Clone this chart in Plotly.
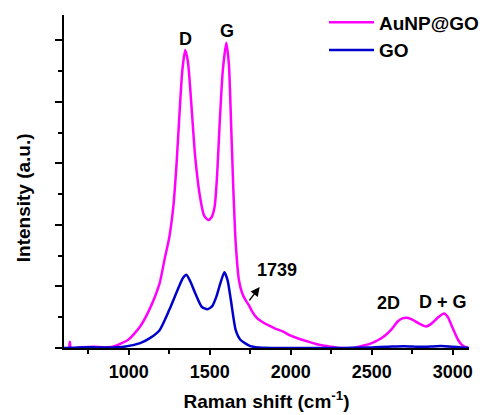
import plotly.graph_objects as go

# Raman shift (cm^-1) and intensity (a.u.)
aunp_x = [600, 630, 636, 642, 700, 780, 850, 900, 950, 1000, 1070, 1130, 1190, 1220,
          1250, 1275, 1295, 1315, 1330, 1348, 1365, 1385, 1410, 1440, 1465, 1490,
          1510, 1530, 1545, 1560, 1580, 1602, 1618, 1632, 1645, 1660, 1680, 1700, 1720,
          1740, 1760, 1790, 1820, 1860, 1900, 1950, 2000, 2050, 2100, 2150, 2200, 2250,
          2300, 2380, 2450, 2500, 2540, 2580, 2620, 2660, 2690, 2717, 2750, 2790, 2835,
          2870, 2910, 2946, 2970, 3000, 3033, 3060, 3095]
aunp_y = [0.0, 0.0, 0.1, 0.0, 0.01, 0.02, 0.01, 0.02, 0.07, 0.14, 0.35, 0.64, 1.05, 1.43,
          1.8, 2.3, 3.0, 3.9, 4.5, 4.84, 4.65, 4.0, 3.1, 2.45, 2.15, 2.08,
          2.12, 2.3, 2.8, 3.6, 4.5, 4.96, 4.6, 3.6, 2.6, 1.7, 1.1, 0.89, 0.78,
          0.7, 0.6, 0.49, 0.43, 0.37, 0.32, 0.27, 0.2, 0.15, 0.11, 0.07, 0.04, 0.02,
          0.0, 0.0, 0.04, 0.08, 0.13, 0.2, 0.3, 0.43, 0.48, 0.49, 0.46, 0.4, 0.35,
          0.4, 0.5, 0.56, 0.5, 0.32, 0.13, 0.04, 0.0]

go_x = [600, 700, 800, 900, 970, 1070, 1130, 1190, 1250, 1310, 1335, 1355, 1380, 1410,
        1450, 1485, 1515, 1540, 1565, 1590, 1610, 1630, 1660, 1690, 1750, 1800, 2000,
        2300, 2500, 2600, 2700, 2800, 2900, 2950, 3050, 3100]
go_y = [0.0, 0.01, 0.01, 0.01, 0.02, 0.08, 0.16, 0.29, 0.62, 1.0, 1.14, 1.19, 1.08, 0.89,
        0.67, 0.63, 0.68, 0.83, 1.05, 1.23, 1.1, 0.78, 0.29, 0.13, 0.03, 0.01, 0.0,
        0.0, 0.01, 0.02, 0.03, 0.02, 0.03, 0.03, 0.01, 0.0]

peak_labels = ["D", "G", "1739", "2D", "D + G"]
peak_label_x = [1350, 1606, 1915, 2600, 2939]
peak_label_y = [5.02, 5.15, 1.27, 0.73, 0.75]

FONT = "Liberation Sans, Arial, sans-serif"
MAGENTA = "#FF00FF"
BLUE = "#0000CC"

fig = go.Figure()
fig.add_trace(go.Scatter(x=aunp_x, y=aunp_y, mode="lines", name="AuNP@GO",
                         line=dict(color=MAGENTA, width=2.5, shape="spline", smoothing=0.6)))
fig.add_trace(go.Scatter(x=go_x, y=go_y, mode="lines", name="GO",
                         line=dict(color=BLUE, width=2.5, shape="spline", smoothing=0.6)))

for t, x, y in zip(peak_labels, peak_label_x, peak_label_y):
    fig.add_annotation(x=x, y=y, text=t, showarrow=False,
                       font=dict(family=FONT, size=18, color="black", weight="bold"))

# arrow pointing at the 1739 shoulder
fig.add_annotation(x=1808, y=0.99, ax=1737, ay=0.75, axref="x", ayref="y",
                   text="", showarrow=True, arrowhead=2, arrowsize=1.2,
                   arrowwidth=1.5, arrowcolor="black", standoff=0, startstandoff=0)

# y-axis title (placed slightly below the axis centre, as in the reference)
fig.add_annotation(xref="paper", yref="paper", x=-0.101, y=0.45,
                   text="Intensity (a.u.)", textangle=-90, showarrow=False,
                   xanchor="center", yanchor="middle",
                   font=dict(family=FONT, size=19, color="black", weight="bold"))

fig.update_layout(
    width=487, height=415,
    margin=dict(l=64, r=3, t=15, b=67),
    paper_bgcolor="white", plot_bgcolor="white",
    font=dict(family=FONT, size=18, color="black"),
    showlegend=True,
    legend=dict(x=0.642, y=1.035, xanchor="left", yanchor="top",
                bgcolor="rgba(0,0,0,0)", borderwidth=0, itemwidth=45,
                font=dict(family=FONT, size=19, color="black", weight="bold"),
                tracegroupgap=0),
)

fig.update_xaxes(
    range=[600, 3100], showgrid=False, zeroline=False,
    showline=True, linecolor="black", linewidth=2,
    ticks="outside", tickwidth=2, ticklen=5, tickcolor="black",
    tick0=0, dtick=500, ticklabelstandoff=1,
    tickfont=dict(family=FONT, size=18, color="black", weight="bold"),
    minor=dict(ticks="outside", dtick=250, ticklen=4, tickwidth=2, tickcolor="black"),
    title=dict(text="Raman shift (cm<sup>-1</sup>)", standoff=14,
               font=dict(family=FONT, size=19, color="black", weight="bold")),
)
fig.update_yaxes(
    range=[0, 5.41], showgrid=False, zeroline=False,
    showline=True, linecolor="black", linewidth=2,
    ticks="outside", tickwidth=2, ticklen=7, tickcolor="black",
    tick0=0, dtick=1, showticklabels=False,
    minor=dict(ticks="outside", dtick=0.5, ticklen=4, tickwidth=2, tickcolor="black"),
)

fig.write_html("out.html", config={"displayModeBar": False},
               post_script="document.body.style.margin='0px';")
